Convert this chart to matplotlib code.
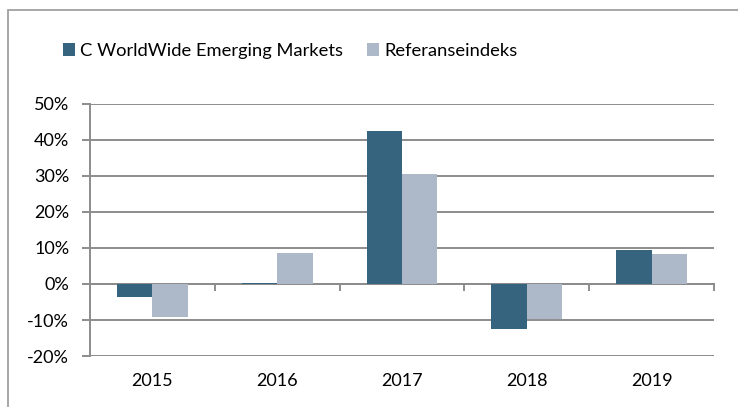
import numpy as np
import matplotlib
matplotlib.use("Agg")
import matplotlib.pyplot as plt
from matplotlib.patches import Rectangle

years = ['2015', '2016', '2017', '2018', '2019']
fund = [-3.6, 0.2, 42.4, -12.4, 9.4]
index = [-9.2, 8.7, 30.6, -9.6, 8.3]
labels = ['C WorldWide Emerging Markets', 'Referanseindeks']

dark = '#36647f'
light = '#adb9c9'
grid_col = '#8c8c8c'

plt.rcParams['font.family'] = ['Lato', 'DejaVu Sans']

fig = plt.figure(figsize=(7.38, 4.07), dpi=100)
ax = fig.add_axes([0.122, 0.1253, 0.8455, 0.6192])

# outer chart frame (only top/left visible in the original)
fig.patches.append(Rectangle((8 / 738, -0.1), 1.2, 1 - 10 / 407 + 0.1,
                             transform=fig.transFigure, fill=False,
                             edgecolor='#a0a0a0', linewidth=1.3))

x = np.arange(len(years))
w = 0.284
ax.bar(x - w / 2, fund, w, color=dark, label=labels[0], zorder=3)
ax.bar(x + w / 2, index, w, color=light, label=labels[1], zorder=3)

ax.set_ylim(-20, 50)
ax.set_xlim(-0.5, len(years) - 0.5)
ax.set_yticks(np.arange(-20, 51, 10))
ax.set_yticklabels([f'{v}%' for v in range(-20, 51, 10)], fontsize=13)
ax.grid(axis='y', color=grid_col, linewidth=1.4, zorder=0)
ax.set_axisbelow(True)

for s in ['top', 'right']:
    ax.spines[s].set_visible(False)
ax.spines['left'].set_color(grid_col)
ax.spines['left'].set_linewidth(1.4)
ax.spines['bottom'].set_position(('data', 0))
ax.spines['bottom'].set_color(grid_col)
ax.spines['bottom'].set_linewidth(1.4)

# boundary ticks on the zero line, year labels at the bottom
ax.set_xticks(np.arange(-0.5, len(years), 1.0))
ax.set_xticklabels([])
ax.set_xticks(x, minor=True)
ax.set_xticklabels(years, minor=True, fontsize=13)
ax.tick_params(axis='x', which='major', length=5, width=1.4, color=grid_col)
ax.tick_params(axis='x', which='minor', length=0, pad=64)
ax.tick_params(axis='y', length=6, width=1.4, color=grid_col, pad=9)

fig.legend(loc='upper left', bbox_to_anchor=(0.063, 0.935), ncol=2, frameon=False,
           fontsize=13.2, handlelength=0.65, handleheight=0.65, handletextpad=0.3,
           columnspacing=1.3)

fig.savefig('out.png', dpi=100)
